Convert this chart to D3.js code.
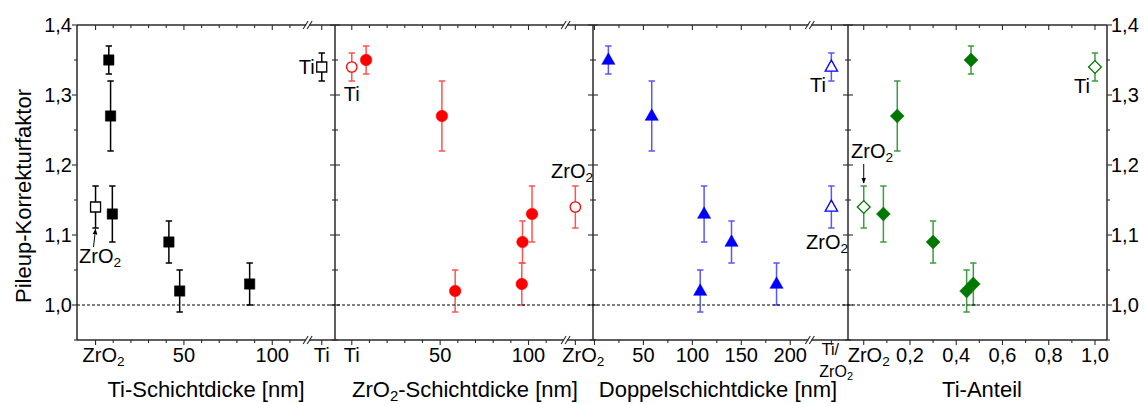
<!DOCTYPE html>
<html><head><meta charset="utf-8">
<script src="https://cdn.jsdelivr.net/npm/d3@7"></script>
<style>
body{margin:0;background:#fff}
svg{display:block;font-family:"Liberation Sans",Arial,sans-serif}
</style></head><body>
<svg id="chart" width="1144" height="404"></svg>
<script>
// Pileup correction factor of Ti/ZrO2 multilayers, plotted against four layer parameters
const pileupFactor     = [1.35, 1.27, 1.13, 1.09, 1.02, 1.03];
const pileupError      = [0.02, 0.05, 0.04, 0.03, 0.03, 0.03];
const tiThickness      = [7.5, 8.5, 9.5, 41.5, 47.6, 87.2];
const zro2Thickness    = [8.1, 51, 102, 96.6, 58.5, 96.2];
const bilayerThickness = [14.2, 58.5, 112, 140, 108, 186];
const tiFraction       = [0.464, 0.145, 0.085, 0.30, 0.445, 0.474];

// bulk reference materials
const refNames  = ["Ti", "ZrO2"];
const refFactor = [1.34, 1.14];
const refError  = [0.02, 0.03];

// y axis
const yTicks      = [1.0, 1.1, 1.2, 1.3, 1.4];
const yMinorTicks = [0.95, 1.05, 1.15, 1.25, 1.35];

// x-axis ticks of each panel
const tiTickValues   = [0, 50, 100, 128];
const tiTickLabels   = ["ZrO2", "50", "100", "Ti"];
const tiMinorTicks   = [10, 20, 30, 40, 60, 70, 80, 90, 110];
const zrTickValues   = [0, 50, 100, 126.5];
const zrTickLabels   = ["Ti", "50", "100", "ZrO2"];
const zrMinorTicks   = [10, 20, 30, 40, 60, 70, 80, 90, 110];
const blTickValues   = [0, 50, 100, 150, 200, 242];
const blTickLabels   = ["", "50", "100", "150", "200", "Ti/ZrO2"];
const blMinorTicks   = [25, 75, 125, 175];
const frTickValues   = [0, 0.2, 0.4, 0.6, 0.8, 1.0];
const frTickLabels   = ["ZrO2", "0,2", "0,4", "0,6", "0,8", "1,0"];
const frMinorTicks   = [0.1, 0.3, 0.5, 0.7, 0.9];

const axisTitles = ["Ti-Schichtdicke [nm]", "ZrO2-Schichtdicke [nm]", "Doppelschichtdicke [nm]", "Ti-Anteil"];

const svg = d3.select("#chart");
const plotTop = 25, plotBottom = 340;
const y = d3.scaleLinear().domain([0.95, 1.4]).range([plotBottom, plotTop]);
const comma = d3.formatLocale({decimal: ",", thousands: ".", grouping: [3], currency: ["", ""]}).format(".1f");

const panels = [
  {range: [77, 335], domain: [-10.5, 135.5], xs: tiThickness, refX: [128, 0],
   ticks: tiTickValues, labels: tiTickLabels, minor: tiMinorTicks, brk: 120,
   shape: "square", fill: "#000", err: "#000", title: axisTitles[0], titleX: 206},
  {range: [335, 593], domain: [-9.5, 136.5], xs: zro2Thickness, refX: [0, 126.5],
   ticks: zrTickValues, labels: zrTickLabels, minor: zrMinorTicks, brk: 121,
   shape: "circle", fill: "#ff0000", err: "#ff5252", title: axisTitles[1], titleX: 465},
  {range: [593, 848], domain: [-1.5, 259], xs: bilayerThickness, refX: [242, 242],
   ticks: blTickValues, labels: blTickLabels, minor: blMinorTicks, brk: 220,
   shape: "triangle", fill: "#0000ff", err: "#5656ff", title: axisTitles[2], titleX: 718},
  {range: [848, 1107], domain: [-0.068, 1.052], xs: tiFraction, refX: [1.0, 0],
   ticks: frTickValues, labels: frTickLabels, minor: frMinorTicks, brk: null,
   shape: "diamond", fill: "#007800", err: "#3d9c3d", title: axisTitles[3], titleX: 982}
];

// writes chemical formulas with a subscript 2
function chem(sel, str) {
  const parts = str.split(/(O2)/).filter(s => s);
  let lowered = false;
  parts.forEach(p => {
    if (p === "O2") {
      const o = sel.append("tspan").text("O");
      if (lowered) o.attr("dy", "-0.3em");
      sel.append("tspan").attr("font-size", "0.68em").attr("dy", "0.3em").text("2");
      lowered = true;
    } else {
      const t = sel.append("tspan").text(p);
      if (lowered) { t.attr("dy", "-0.2em"); lowered = false; }
    }
  });
  return sel;
}

function markerPath(shape, open) {
  if (shape === "square") { const h = open ? 5 : 5.2; return `M${-h},${-h}H${h}V${h}H${-h}Z`; }
  if (shape === "triangle") { const w = open ? 6.2 : 6.6, h = open ? 11 : 11.5;
    return `M0,${-h * 0.62}L${w},${h * 0.38}L${-w},${h * 0.38}Z`; }
  if (shape === "diamond") { const h = open ? 6.4 : 7; return `M0,${-h}L${h},0L0,${h}L${-h},0Z`; }
  return null;
}

function drawPoint(g, cx, cy, v, e, p, open) {
  const cap = 3.2;
  const eg = g.append("g").attr("stroke", p.err).attr("stroke-width", 1.5).attr("fill", "none");
  eg.append("line").attr("x1", cx).attr("x2", cx).attr("y1", y(v - e)).attr("y2", y(v + e));
  eg.append("line").attr("x1", cx - cap).attr("x2", cx + cap).attr("y1", y(v - e)).attr("y2", y(v - e));
  eg.append("line").attr("x1", cx - cap).attr("x2", cx + cap).attr("y1", y(v + e)).attr("y2", y(v + e));
  const fill = open ? "#fff" : p.fill;
  const stroke = p.fill;
  if (p.shape === "circle") {
    g.append("circle").attr("cx", cx).attr("cy", cy).attr("r", open ? 5.2 : 5.8)
      .attr("fill", fill).attr("stroke", stroke).attr("stroke-width", open ? 1.3 : 0.5);
  } else {
    g.append("path").attr("d", markerPath(p.shape, open)).attr("transform", `translate(${cx},${cy})`)
      .attr("fill", fill).attr("stroke", stroke).attr("stroke-width", open ? 1.3 : 0.5);
  }
}

const axisColor = "#2a2a2a";

panels.forEach((p, i) => {
  const x = d3.scaleLinear().domain(p.domain).range(p.range);
  p.x = x;
  const g = svg.append("g");
  const [x0, x1] = p.range;

  // frame lines
  g.append("line").attr("x1", x0).attr("x2", x1).attr("y1", plotTop).attr("y2", plotTop)
    .attr("stroke", axisColor).attr("stroke-width", 1.3);
  g.append("line").attr("x1", x0).attr("x2", x1).attr("y1", plotBottom).attr("y2", plotBottom)
    .attr("stroke", axisColor).attr("stroke-width", 1.3);

  // x ticks: inward on top, outward at the bottom
  const tickG = g.append("g").attr("stroke", axisColor).attr("stroke-width", 1.1);
  p.ticks.forEach(v => {
    tickG.append("line").attr("x1", x(v)).attr("x2", x(v)).attr("y1", plotTop).attr("y2", plotTop + 5);
    tickG.append("line").attr("x1", x(v)).attr("x2", x(v)).attr("y1", plotBottom).attr("y2", plotBottom + 5);
  });
  p.minor.forEach(v => {
    tickG.append("line").attr("x1", x(v)).attr("x2", x(v)).attr("y1", plotTop).attr("y2", plotTop + 3);
    tickG.append("line").attr("x1", x(v)).attr("x2", x(v)).attr("y1", plotBottom).attr("y2", plotBottom + 3);
  });

  // y ticks on both sides of the panel
  const leftDir = i === 0 ? -1 : 1;
  const rightDir = i === panels.length - 1 ? 1 : -1;
  yTicks.forEach(v => {
    tickG.append("line").attr("x1", x0).attr("x2", x0 + leftDir * 5).attr("y1", y(v)).attr("y2", y(v));
    tickG.append("line").attr("x1", x1).attr("x2", x1 + rightDir * 5).attr("y1", y(v)).attr("y2", y(v));
  });
  yMinorTicks.forEach(v => {
    tickG.append("line").attr("x1", x0).attr("x2", x0 + leftDir * 3).attr("y1", y(v)).attr("y2", y(v));
    tickG.append("line").attr("x1", x1).attr("x2", x1 + rightDir * 3).attr("y1", y(v)).attr("y2", y(v));
  });

  // axis break marks
  if (p.brk !== null) {
    const bx = x(p.brk);
    [plotTop, plotBottom].forEach(by => {
      g.append("rect").attr("x", bx - 1.5).attr("y", by - 2).attr("width", 3).attr("height", 4).attr("fill", "#fff");
      [-2, 2].forEach(d => {
        g.append("line").attr("x1", bx + d - 2.5).attr("x2", bx + d + 2.5)
          .attr("y1", by + 4).attr("y2", by - 4).attr("stroke", axisColor).attr("stroke-width", 1.1);
      });
    });
  }

  // x tick labels
  p.ticks.forEach((v, k) => {
    const lab = p.labels[k];
    if (!lab) return;
    if (lab === "Ti/ZrO2") {
      g.append("text").attr("x", x(v) - 1).attr("y", 355).attr("text-anchor", "middle")
        .attr("font-size", 16).text("Ti/");
      chem(g.append("text").attr("x", x(v) - 12).attr("y", 377)
        .attr("font-size", 16), "ZrO2");
      return;
    }
    if (lab === "ZrO2") {
      chem(g.append("text").attr("x", x(v) - (i === 3 ? 16 : 13)).attr("y", 362)
        .attr("font-size", 20), "ZrO2");
      return;
    }
    g.append("text").attr("x", x(v)).attr("y", 362).attr("text-anchor", "middle")
      .attr("font-size", 20).text(lab);
  });

  // axis title
  chem(g.append("text").attr("x", p.titleX).attr("y", 397).attr("text-anchor", "middle")
    .attr("font-size", 22), p.title);

  // multilayer samples
  const pts = g.append("g");
  p.xs.forEach((xv, k) => drawPoint(pts, x(xv), y(pileupFactor[k]), pileupFactor[k], pileupError[k], p, false));
  // reference materials (open symbols)
  refNames.forEach((n, k) => drawPoint(pts, x(p.refX[k]), y(refFactor[k]), refFactor[k], refError[k], p, true));
});

// vertical frame lines
[77, 335, 593, 848, 1107].forEach(xv => {
  svg.append("line").attr("x1", xv).attr("x2", xv).attr("y1", plotTop).attr("y2", plotBottom)
    .attr("stroke", axisColor).attr("stroke-width", 1.5);
});

// reference level 1.0
svg.append("line").attr("x1", 77).attr("x2", 1107).attr("y1", y(1.0)).attr("y2", y(1.0))
  .attr("stroke", "#000").attr("stroke-width", 1).attr("stroke-dasharray", "3,2");

// y tick labels left and right
yTicks.forEach(v => {
  svg.append("text").attr("x", 72).attr("y", y(v)).attr("dy", "0.35em").attr("text-anchor", "end")
    .attr("font-size", 20).text(comma(v));
  svg.append("text").attr("x", 1111).attr("y", y(v)).attr("dy", "0.35em").attr("text-anchor", "start")
    .attr("font-size", 20).text(comma(v));
});

// y title
svg.append("text").attr("transform", "translate(31,196) rotate(-90)").attr("text-anchor", "middle")
  .attr("font-size", 22).text("Pileup-Korrekturfaktor");

// labels of the reference points
const defs = svg.append("defs");
defs.append("marker").attr("id", "arrow").attr("viewBox", "0 0 10 10").attr("refX", 9).attr("refY", 5)
  .attr("markerWidth", 6).attr("markerHeight", 6).attr("orient", "auto-start-reverse")
  .append("path").attr("d", "M0,1L10,5L0,9Z").attr("fill", "#000");

const p1 = panels[0], p2 = panels[1], p4 = panels[3];
const ann = svg.append("g").attr("font-size", 20).attr("fill", "#000");
ann.append("text").attr("x", p1.x(p1.refX[0]) - 7).attr("y", 74).attr("text-anchor", "end").text("Ti");
chem(ann.append("text").attr("x", 79).attr("y", 263), "ZrO2");
svg.append("line").attr("x1", 93.5).attr("y1", 247).attr("x2", p1.x(p1.refX[1])).attr("y2", y(1.11) + 1)
  .attr("stroke", "#000").attr("stroke-width", 1).attr("marker-end", "url(#arrow)");

ann.append("text").attr("x", p2.x(p2.refX[0])).attr("y", 101).attr("text-anchor", "middle").text("Ti");
chem(ann.append("text").attr("x", 551).attr("y", 178), "ZrO2");

ann.append("text").attr("x", 826).attr("y", 92).attr("text-anchor", "end").text("Ti");
chem(ann.append("text").attr("x", 806).attr("y", 249), "ZrO2");

chem(ann.append("text").attr("x", 851).attr("y", 158), "ZrO2");
svg.append("line").attr("x1", p4.x(p4.refX[1])).attr("y1", 164).attr("x2", p4.x(p4.refX[1])).attr("y2", 183)
  .attr("stroke", "#000").attr("stroke-width", 1).attr("marker-end", "url(#arrow)");
ann.append("text").attr("x", 1090).attr("y", 93).attr("text-anchor", "end").text("Ti");
</script>
</body></html>
